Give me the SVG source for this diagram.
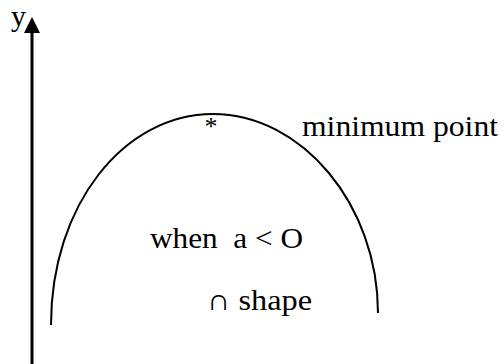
<svg xmlns="http://www.w3.org/2000/svg" width="504" height="364" viewBox="0 0 504 364">
<style>
text { font-family: "Liberation Serif", "Times New Roman", Times, serif; font-size: 30px; fill: #000; }
.axis { stroke: #000; stroke-width: 3; fill: none; }
.curve { stroke: #000; stroke-width: 2; fill: none; }
</style>
<rect width="504" height="364" fill="#fff"/>
<g id="axis">
<line class="axis" x1="32" y1="364" x2="32" y2="32"/>
<polygon points="32,17 24,33 40,33" fill="#000"/>
<text x="11" y="26">y</text>
</g>
<g id="curve">
<path class="curve" d="M51,325 C51,205 124,114 213,114 C302,114 378,205 378,313"/>
<text x="211" y="135" text-anchor="middle" style="font-size:26px">*</text>
</g>
<g id="labels">
<text x="302" y="136" textLength="196" lengthAdjust="spacingAndGlyphs">minimum point</text>
<text x="150" y="248" xml:space="preserve" textLength="153" lengthAdjust="spacingAndGlyphs">when  a &lt; O</text>
<text x="207" y="310" xml:space="preserve" textLength="105" lengthAdjust="spacingAndGlyphs">∩ shape</text>
</g>
</svg>
